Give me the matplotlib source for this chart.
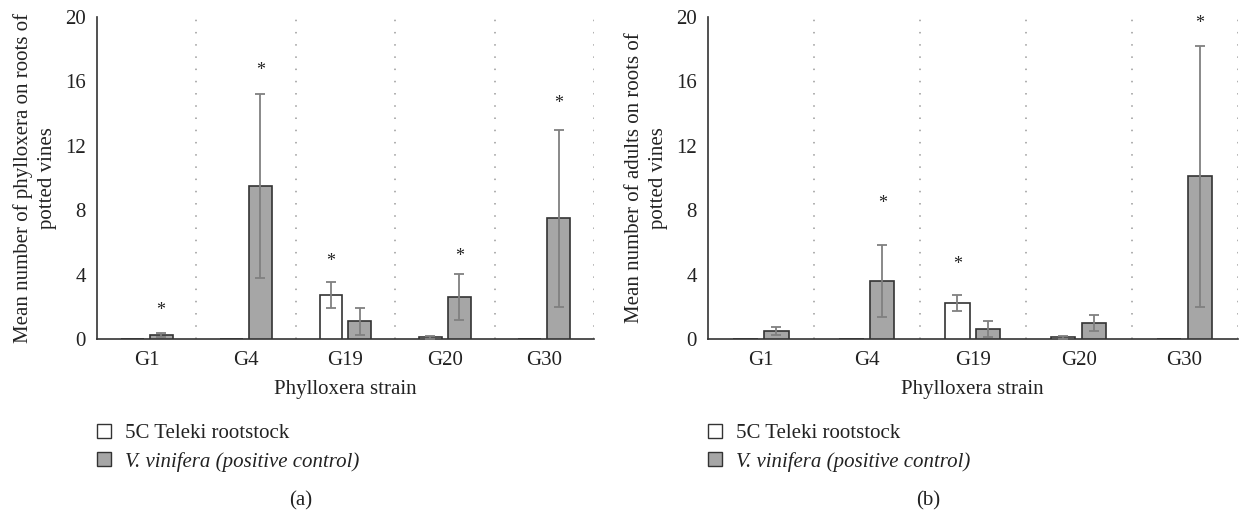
import matplotlib.pyplot as plt
import matplotlib.patches as mpatches
import numpy as np

plt.rcParams['font.family'] = ['Liberation Serif', 'DejaVu Serif']

# ---------------- Data ----------------
strains = ["G1", "G4", "G19", "G20", "G30"]

# (a) phylloxera on roots
a_teleki = [0.0, 0.0, 2.75, 0.1, 0.0]
a_teleki_err = [0.0, 0.0, 0.8, 0.1, 0.0]
a_vinifera = [0.25, 9.5, 1.1, 2.6, 7.5]
a_vinifera_err = [0.15, 5.7, 0.85, 1.45, 5.5]
# star positions: (group index, series, y)
a_stars = [(0, 1, 1.8), (1, 1, 16.7), (2, 0, 4.8), (3, 1, 5.1), (4, 1, 14.6)]

# (b) adults on roots
b_teleki = [0.0, 0.0, 2.25, 0.1, 0.0]
b_teleki_err = [0.0, 0.0, 0.5, 0.1, 0.0]
b_vinifera = [0.5, 3.6, 0.6, 1.0, 10.1]
b_vinifera_err = [0.25, 2.25, 0.5, 0.5, 8.1]
b_stars = [(1, 1, 8.4), (2, 0, 4.6), (4, 1, 19.6)]

ylabels = ["Mean number of phylloxera on roots of\npotted vines",
           "Mean number of adults on roots of\npotted vines"]
legend_labels = ["5C Teleki rootstock", "V. vinifera (positive control)"]
panel_tags = ["(a)", "(b)"]

# ---------------- Style ----------------
fill = ["white", "#a6a6a6"]
edge = "#333333"
err_col = "#808080"
width = 0.23
offs = [-0.145, 0.145]
fs = 15

fig = plt.figure(figsize=(12.4, 5.11), dpi=100)

panels = [
    (a_teleki, a_teleki_err, a_vinifera, a_vinifera_err, a_stars, [0.0782, 0.3366, 0.4008, 0.630]),
    (b_teleki, b_teleki_err, b_vinifera, b_vinifera_err, b_stars, [0.571, 0.3366, 0.427, 0.630]),
]

x = np.arange(len(strains))
for i, (t, te, v, ve, stars, rect) in enumerate(panels):
    ax = fig.add_axes(rect)
    for k, (vals, errs) in enumerate([(t, te), (v, ve)]):
        vals = np.array(vals)
        errs = np.array(errs)
        ax.bar(x + offs[k], vals, width, color=fill[k], edgecolor=edge, linewidth=1.2, zorder=3)
        m = errs > 0
        ax.errorbar(x[m] + offs[k], vals[m], yerr=errs[m], fmt='none', ecolor=err_col,
                    elinewidth=1.3, capsize=3.5, capthick=1.3, zorder=4)
    for g, s, y in stars:
        ax.text(g + offs[s], y, "*", ha='center', va='center', fontsize=13, color="#222222")
    for b in np.arange(0.5, len(strains), 1.0):
        ax.axvline(b, color="#9a9a9a", linestyle=(0, (1, 7)), linewidth=1.1, zorder=1)
    ax.set_xlim(-0.5, len(strains) - 0.5)
    ax.set_ylim(0, 20)
    ax.set_yticks([0, 4, 8, 12, 16, 20])
    ax.set_xticks(x)
    ax.set_xticklabels(strains)
    ax.tick_params(axis='both', length=0, labelsize=fs, colors="#222222")
    ax.tick_params(axis='x', pad=9)
    ax.tick_params(axis='y', pad=8)
    for side in ["top", "right"]:
        ax.spines[side].set_visible(False)
    for side in ["left", "bottom"]:
        ax.spines[side].set_color("#333333")
        ax.spines[side].set_linewidth(1.2)
    ax.set_ylabel(ylabels[i], fontsize=fs, color="#222222", labelpad=6, linespacing=1.35)
    ax.set_xlabel("Phylloxera strain", fontsize=fs, color="#222222", labelpad=7)

    handles = [mpatches.Patch(facecolor=fill[k], edgecolor=edge, linewidth=1.0) for k in range(2)]
    leg = fig.legend(handles, legend_labels, loc='upper left',
                     bbox_to_anchor=(rect[0], 0.170), frameon=False,
                     fontsize=fs, handlelength=0.65, handleheight=0.65, handletextpad=0.7,
                     labelspacing=0.4, borderaxespad=0, borderpad=0)
    leg.get_texts()[1].set_style('italic')
    for txt in leg.get_texts():
        txt.set_color("#222222")
    fig.text(rect[0] + rect[2] / 2 - (0.0365 if i == 0 else 0.036), 0.02, panel_tags[i],
             ha='center', va='center', fontsize=fs, color="#222222")

fig.savefig("out.png", dpi=100)
